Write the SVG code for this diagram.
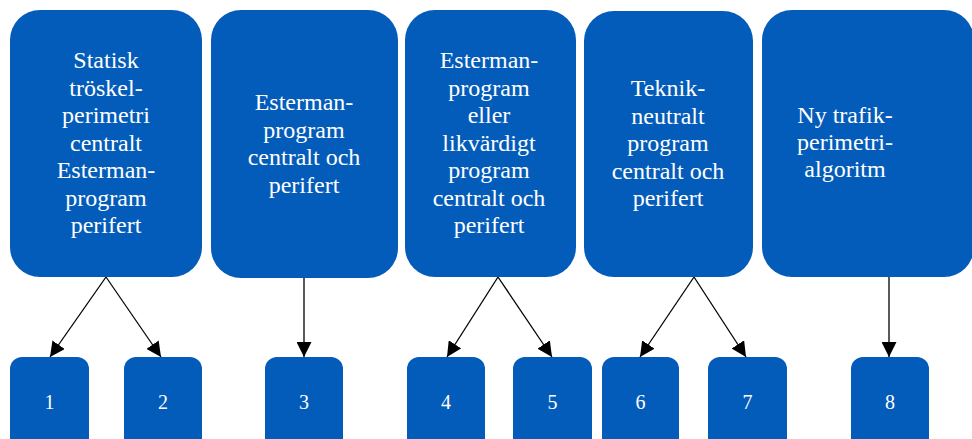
<svg xmlns="http://www.w3.org/2000/svg" width="972" height="439" viewBox="0 0 972 439">
<defs>
<style>
.box{fill:#035CBA;}
.t{font-family:"Liberation Serif","Times New Roman",serif;font-size:24px;fill:#ffffff;text-anchor:middle;}
.n{font-family:"Liberation Serif","Times New Roman",serif;font-size:20px;fill:#ffffff;text-anchor:middle;}
.c{stroke:#000;stroke-width:1.3;fill:none;marker-end:url(#ah);}
</style>
<marker id="ah" viewBox="0 0 10 10" refX="10" refY="5" markerWidth="15" markerHeight="15" markerUnits="userSpaceOnUse" orient="auto">
<path d="M0,0 L10,5 L0,10 z" fill="#000"/>
</marker>
</defs>
<rect width="972" height="439" fill="#ffffff"/>
<g id="connectors">
<line class="c" x1="106" y1="277" x2="50" y2="357"/>
<line class="c" x1="106" y1="277" x2="161" y2="357"/>
<line class="c" x1="304" y1="277" x2="304" y2="357"/>
<line class="c" x1="498" y1="277" x2="447" y2="357"/>
<line class="c" x1="498" y1="277" x2="552" y2="357"/>
<line class="c" x1="694" y1="277" x2="640" y2="357"/>
<line class="c" x1="694" y1="277" x2="746" y2="357"/>
<line class="c" x1="889" y1="277" x2="889" y2="357"/>
</g>
<g id="top1">
<rect class="box" x="10" y="10" width="192" height="267" rx="30"/>
<text class="t"><tspan x="106" y="68">Statisk</tspan><tspan x="106" y="95.5">tröskel-</tspan><tspan x="106" y="123">perimetri</tspan><tspan x="106" y="150.5">centralt</tspan><tspan x="106" y="178">Esterman-</tspan><tspan x="106" y="205.5">program</tspan><tspan x="106" y="233">perifert</tspan></text>
</g>
<g id="top2">
<rect class="box" x="211" y="10" width="187" height="268" rx="30"/>
<text class="t"><tspan x="304" y="110">Esterman-</tspan><tspan x="304" y="137.5">program</tspan><tspan x="304" y="165">centralt och</tspan><tspan x="304" y="192.5">perifert</tspan></text>
</g>
<g id="top3">
<rect class="box" x="405" y="10" width="171" height="267" rx="30"/>
<text class="t"><tspan x="489" y="68">Esterman-</tspan><tspan x="489" y="95.5">program</tspan><tspan x="489" y="123">eller</tspan><tspan x="489" y="150.5">likvärdigt</tspan><tspan x="489" y="178">program</tspan><tspan x="489" y="205.5">centralt och</tspan><tspan x="489" y="233">perifert</tspan></text>
</g>
<g id="top4">
<rect class="box" x="584" y="11" width="169" height="266" rx="30"/>
<text class="t"><tspan x="668" y="96">Teknik-</tspan><tspan x="668" y="123.5">neutralt</tspan><tspan x="668" y="151">program</tspan><tspan x="668" y="178.5">centralt och</tspan><tspan x="668" y="206">perifert</tspan></text>
</g>
<g id="top5">
<rect class="box" x="762" y="10" width="212" height="267" rx="30"/>
<text class="t"><tspan x="845" y="123">Ny trafik-</tspan><tspan x="845" y="150">perimetri-</tspan><tspan x="845" y="177">algoritm</tspan></text>
</g>
<g id="n1"><rect class="box" x="10" y="357" width="79" height="100" rx="12"/><text class="n" x="49.5" y="409">1</text></g>
<g id="n2"><rect class="box" x="124" y="357" width="78" height="100" rx="12"/><text class="n" x="163" y="409">2</text></g>
<g id="n3"><rect class="box" x="265" y="357" width="78" height="100" rx="12"/><text class="n" x="304" y="409">3</text></g>
<g id="n4"><rect class="box" x="407" y="357" width="78" height="100" rx="12"/><text class="n" x="446" y="409">4</text></g>
<g id="n5"><rect class="box" x="513" y="357" width="79" height="100" rx="12"/><text class="n" x="552.5" y="409">5</text></g>
<g id="n6"><rect class="box" x="602" y="357" width="77" height="100" rx="12"/><text class="n" x="640.5" y="409">6</text></g>
<g id="n7"><rect class="box" x="708" y="357" width="79" height="100" rx="12"/><text class="n" x="747.5" y="409">7</text></g>
<g id="n8"><rect class="box" x="851" y="357" width="78" height="100" rx="12"/><text class="n" x="890" y="409">8</text></g>
</svg>
